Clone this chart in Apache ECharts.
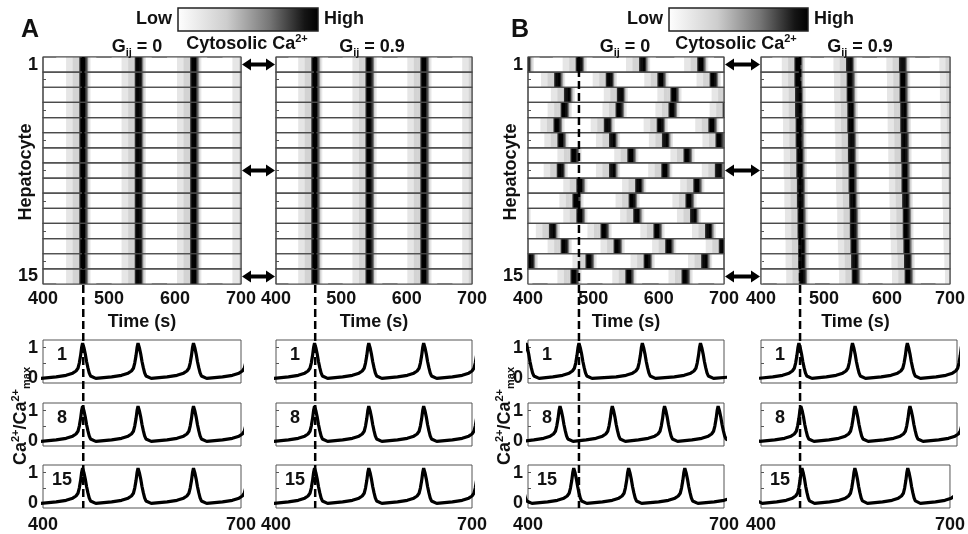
<!DOCTYPE html>
<html><head><meta charset="utf-8">
<script src="https://cdn.jsdelivr.net/npm/echarts@6/dist/echarts.min.js"></script>
<style>html,body{margin:0;padding:0;background:#fff}#c{width:968px;height:534px}</style>
</head><body><div id="c"></div>
<script>
// ---------------- data ----------------
const hepatocytes = ['1','2','3','4','5','6','7','8','9','10','11','12','13','14','15'];
const timeTicks = [400, 500, 600, 700];
const tracedCells = [1, 8, 15];
const panelLetters = ['A', 'B'];
const couplingLabels = ['0', '0.9'];
// shape of one Ca2+ spike (time offset from its peak, s) and normalised level
const pulseOffset = [-40, -25, -15, -10, -7, -5, -3, -1.5, 0, 2, 4, 6, 8, 10, 12, 15, 20];
const pulseValue  = [0.05, 0.10, 0.17, 0.24, 0.33, 0.50, 0.75, 1.00, 1.15, 1.00, 0.80, 0.55, 0.35, 0.18, 0.08, 0.02, 0.00];
// spike peak times (s) for each hepatocyte, 4 heat maps
const peaksA_G0 = [
 [376,460,544,628,712],[376,460,544,628,712],[376,460,544,628,712],[376,460,544,628,712],[376,460,544,628,712],
 [376,460,544,628,712],[376,460,544,628,712],[376,460,544,628,712],[376,460,544,628,712],[376,460,544,628,712],
 [376,460,544,628,712],[376,460,544,628,712],[376,460,544,628,712],[376,460,544,628,712],[376,460,544,628,712]];
const peaksA_G09 = [
 [375,459,542,626,710],[375,459,542,626,710],[375,459,542,626,710],[375,459,542,626,710],[375,459,542,626,710],
 [375,459,542,626,710],[375,459,542,626,710],[375,459,542,626,710],[375,459,542,626,710],[375,459,542,626,710],
 [375,459,542,626,710],[375,459,542,626,710],[375,459,542,626,710],[375,459,542,626,710],[375,459,542,626,710]];
const peaksB_G0 = [
 [397,478,575,664,752],
 [366,445,524,603,683,762],
 [378,460,541,623,706],
 [373,455,539,620,703],
 [365,444,521,602,681,760],
 [370,450,529,610,692,772],
 [383,470,557,643,730],
 [370,449,529,609,691,771],
 [390,479,569,658,747],
 [387,473,559,646,733],
 [392,479,566,653,740],
 [358,437,516,597,676,756],
 [374,455,536,615,697,778],
 [403,493,582,670,758],
 [386,470,554,640,725]];
const peaksB_G09 = [
 [375,458,540,624,708],[375,458,541,625,709],[376,459,541,625,709],[376,459,542,626,710],[377,460,542,626,710],
 [377,460,543,627,711],[378,461,543,627,711],[378,461,544,628,712],[379,462,544,628,712],[379,462,545,629,713],
 [380,463,546,630,714],[380,463,546,630,714],[381,464,547,631,715],[381,464,548,632,716],[382,465,549,633,717]];
const dashTime = [461, 460, 478, 462];

// ---------------- layout / style ----------------
const FONT = '"Liberation Sans", Arial, sans-serif';
const cols = [{left:43,width:198},{left:276,width:196},{left:528,width:196},{left:761,width:196}];
const HEAT_TOP = 57, HEAT_H = 227;
const LINE_TOPS = [340, 403, 465], LINE_H = 43;
const lab = {fontFamily: FONT, fontWeight: 'bold', fontSize: 18, color: '#111'};
const allPeaks = [peaksA_G0, peaksA_G09, peaksB_G0, peaksB_G09];
const T0 = timeTicks[0], T1 = timeTicks[timeTicks.length - 1];

function heatData(peaks) {
  const out = [];
  peaks.forEach((row, r) => row.forEach(p => {
    for (let i = 0; i < pulseOffset.length - 1; i++) {
      let a = p + pulseOffset[i], b = p + pulseOffset[i + 1];
      if (b <= T0 || a >= T1) continue;
      out.push([Math.max(a, T0), Math.min(b, T1), r, (pulseValue[i] + pulseValue[i + 1]) / 2]);
    }
  }));
  return out;
}
function lineData(rowPeaks) {
  const pts = [];
  rowPeaks.forEach(p => pulseOffset.forEach((o, i) => pts.push([p + o, pulseValue[i]])));
  return pts;
}
function renderPulse(params, api) {
  const a = api.coord([api.value(0), api.value(2)]);
  const b = api.coord([api.value(1), api.value(2)]);
  const h = api.size([0, 1])[1];
  return {type: 'rect', shape: {x: a[0], y: a[1] - h / 2, width: b[0] - a[0] + 0.5, height: h},
          style: {fill: api.visual('color')}};
}
function renderRow(params, api) {
  const a = api.coord([T0, api.value(0)]);
  const b = api.coord([T1, api.value(0)]);
  const h = api.size([0, 1])[1];
  return {type: 'rect', shape: {x: a[0], y: a[1] - h / 2, width: b[0] - a[0], height: h},
          style: {fill: 'none', stroke: '#4a4a4a', lineWidth: 1.2}};
}

const grids = [], xAxes = [], yAxes = [], series = [];
cols.forEach((c, i) => {
  const leftCol = i % 2 === 0;
  grids.push({left: c.left, top: HEAT_TOP, width: c.width, height: HEAT_H, show: true,
              borderColor: '#555', borderWidth: 1, backgroundColor: '#fff'});
  xAxes.push({gridIndex: i, type: 'value', min: T0, max: T1, interval: 100,
    axisLine: {show: false}, axisTick: {show: false}, splitLine: {show: false},
    axisLabel: Object.assign({margin: 6}, lab),
    name: 'Time (s)', nameLocation: 'middle', nameGap: 29, nameTextStyle: lab});
  yAxes.push({gridIndex: i, type: 'category', data: hepatocytes, inverse: true,
    axisLine: {show: false}, splitLine: {show: false},
    axisTick: {show: true, inside: true, length: 3, alignWithLabel: true, lineStyle: {color: '#555'},
               interval: (idx) => idx % 2 === 1},
    axisLabel: Object.assign({show: leftCol, margin: 5, interval: 0,
      formatter: v => (v === hepatocytes[0] || v === hepatocytes[hepatocytes.length - 1]) ? v : ''}, lab)});
});
cols.forEach((c, i) => tracedCells.forEach((cell, k) => {
  const gi = grids.length;
  const leftCol = i % 2 === 0;
  grids.push({left: c.left, top: LINE_TOPS[k], width: c.width, height: LINE_H, show: true,
              borderColor: '#555', borderWidth: 1});
  xAxes.push({gridIndex: gi, type: 'value', min: T0, max: T1, interval: T1 - T0,
    axisLine: {show: false}, axisTick: {show: false}, splitLine: {show: false},
    axisLabel: Object.assign({show: k === 2, margin: 8}, lab)});
  yAxes.push({gridIndex: gi, type: 'value', min: -0.15, max: 1.25,
    axisLine: {show: false}, splitLine: {show: false},
    axisTick: {show: true, inside: true, length: 3, customValues: [0, 0.5, 1], lineStyle: {color: '#555'}},
    axisLabel: Object.assign({show: leftCol, margin: 5, customValues: [0, 1]}, lab)});
}));
// heat-map cells
cols.forEach((c, i) => series.push({type: 'custom', xAxisIndex: i, yAxisIndex: i, renderItem: renderPulse,
  encode: {x: [0, 1], y: 2}, data: heatData(allPeaks[i]), clip: true, silent: true, z: 2}));
// row outlines
cols.forEach((c, i) => series.push({type: 'custom', xAxisIndex: i, yAxisIndex: i, renderItem: renderRow,
  encode: {y: 0}, data: hepatocytes.map((h, r) => [r]), silent: true, z: 3}));
// traces
cols.forEach((c, i) => tracedCells.forEach((cell, k) => {
  const gi = 4 + i * 3 + k;
  series.push({type: 'line', xAxisIndex: gi, yAxisIndex: gi, data: lineData(allPeaks[i][cell - 1]),
    showSymbol: false, symbol: 'none', clip: true, silent: true,
    lineStyle: {color: '#000', width: 3.2}});
}));

const chart = echarts.init(document.getElementById('c'), null, {width: 968, height: 534});
chart.setOption({
  animation: false, backgroundColor: '#fff',
  grid: grids, xAxis: xAxes, yAxis: yAxes,
  visualMap: {type: 'piecewise', show: false, dimension: 3, seriesIndex: [0, 1, 2, 3],
    pieces: [
      {lt: 0.12, color: '#ffffff'},
      {gte: 0.12, lt: 0.2, color: '#e6e6e6'},
      {gte: 0.2, lt: 0.43, color: '#d3d3d3'},
      {gte: 0.43, lt: 0.55, color: '#7a7a7a'},
      {gte: 0.55, lt: 0.7, color: '#2a2a2a'},
      {gte: 0.7, color: '#000000'}]},
  series: series
});

// ---------------- annotations ----------------
const g = [];
const rich = {
  m: {fontFamily: FONT, fontWeight: 'bold', fontSize: 18, lineHeight: 22, fill: '#111'},
  p: {fontFamily: FONT, fontWeight: 'bold', fontSize: 11, lineHeight: 22, verticalAlign: 'top', fill: '#111', padding: [0,0,10,0]},
  b: {fontFamily: FONT, fontWeight: 'bold', fontSize: 11, lineHeight: 22, verticalAlign: 'bottom', fill: '#111', padding: [10,0,0,0]}
};
function text(str, x, y, align, extra) {
  return Object.assign({type: 'text', z: 100, x: x, y: y,
    style: {text: str, rich: rich, align: align || 'center', verticalAlign: 'middle',
            fontFamily: FONT, fontWeight: 'bold', fontSize: 18, fill: '#111'}}, extra || {});
}
const panels = [
  {letterX: 30, barX: 178, barW: 140, cytoX: 247, gX: [137, 372], hepX: 26, caX: 21, c0: 0, c1: 1},
  {letterX: 520, barX: 669, barW: 139, cytoX: 736, gX: [625, 860], hepX: 511, caX: 505, c0: 2, c1: 3}
];
panels.forEach((P, pi) => {
  g.push(text(panelLetters[pi], P.letterX, 30, 'center', {style: {text: panelLetters[pi], align: 'center', verticalAlign: 'middle', fontFamily: FONT, fontWeight: 'bold', fontSize: 25, fill: '#111'}}));
  g.push({type: 'rect', z: 100, shape: {x: P.barX, y: 8, width: P.barW, height: 23},
    style: {stroke: '#222', lineWidth: 1.5, fill: {type: 'linear', x: 0, y: 0, x2: 1, y2: 0,
      colorStops: [{offset: 0, color: '#ffffff'}, {offset: 0.35, color: '#cdcdcd'}, {offset: 0.65, color: '#777777'},
                   {offset: 0.9, color: '#151515'}, {offset: 1, color: '#000000'}]}}});
  g.push(text('Low', P.barX - 6, 19.5, 'right'));
  g.push(text('High', P.barX + P.barW + 6, 19.5, 'left'));
  g.push(text('{m|Cytosolic Ca}{p|2+}', P.cytoX, 44));
  couplingLabels.forEach((cl, j) => g.push(text('{m|G}{b|ij}{m| = ' + cl + '}', P.gX[j], 47)));
  g.push(text('Hepatocyte', P.hepX, 172, 'center', {rotation: Math.PI / 2}));
  g.push(text('{m|Ca}{p|2+}{m|/Ca}{p|2+}{b|max}', P.caX, 416, 'center', {rotation: Math.PI / 2}));
  // arrows between the two heat maps, at traced cells
  const xa = cols[P.c0].left + cols[P.c0].width + 1, xb = cols[P.c1].left - 1;
  tracedCells.forEach(cell => {
    const y = chart.convertToPixel({gridIndex: P.c0}, [T0, cell - 1])[1];
    g.push({type: 'polygon', z: 100, shape: {points: [
      [xa, y], [xa + 9, y - 6], [xa + 9, y - 2], [xb - 9, y - 2], [xb - 9, y - 6], [xb, y],
      [xb - 9, y + 6], [xb - 9, y + 2], [xa + 9, y + 2], [xa + 9, y + 6]]}, style: {fill: '#000'}});
  });
});
// cell number labels in trace panels
cols.forEach((c, i) => tracedCells.forEach((cell, k) => {
  g.push(text(String(cell), c.left + 19, LINE_TOPS[k] + 15));
}));
// dashed time markers
cols.forEach((c, i) => {
  const x = chart.convertToPixel({gridIndex: i}, [dashTime[i], 0])[0];
  g.push({type: 'line', z: 101, shape: {x1: x, y1: HEAT_TOP, x2: x, y2: LINE_TOPS[2] + LINE_H},
    style: {stroke: '#000', lineWidth: 2.5, lineDash: [8, 4]}});
});
chart.setOption({graphic: {elements: g}});
</script>
</body></html>
